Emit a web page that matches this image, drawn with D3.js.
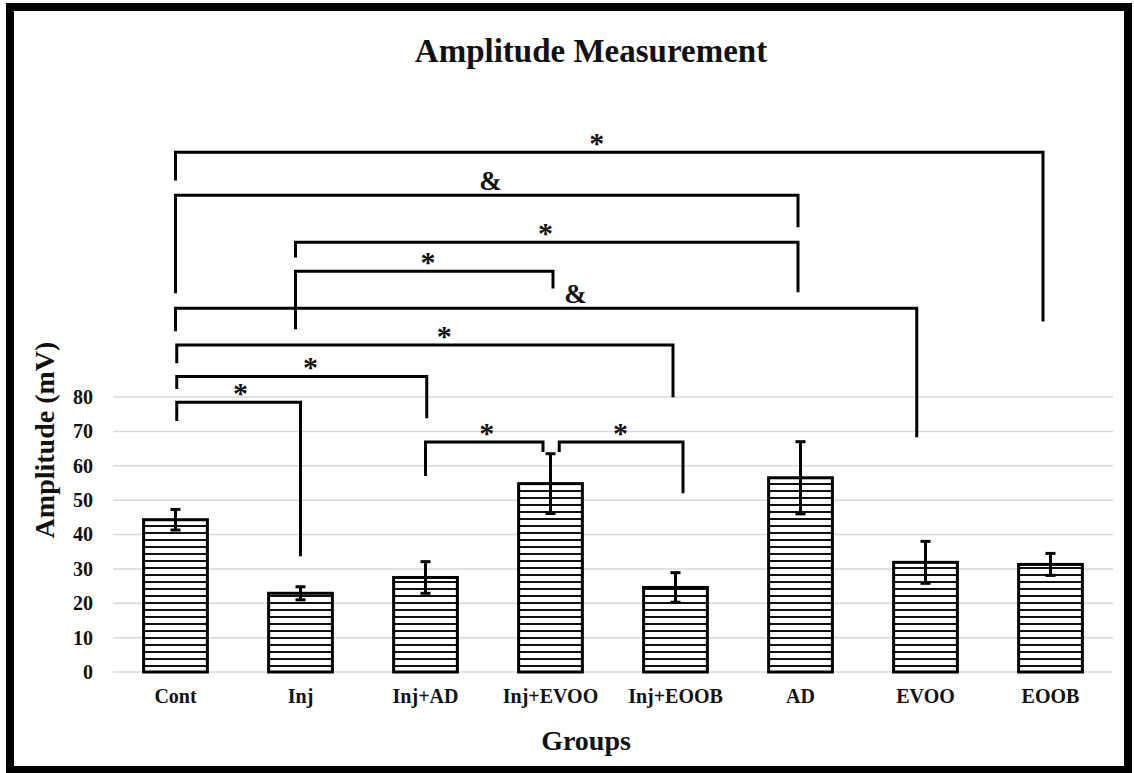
<!DOCTYPE html>
<html>
<head>
<meta charset="utf-8">
<script src="https://cdn.jsdelivr.net/npm/d3@7"></script>
<style>
  body { margin: 0; background: #fff; }
  text { font-family: "Liberation Serif", "Times New Roman", serif; font-weight: bold; }
</style>
</head>
<body>
<div id="chart"></div>
<script>
// groups and measured amplitude (mean, error)
var groups = ["Cont", "Inj", "Inj+AD", "Inj+EVOO", "Inj+EOOB", "AD", "EVOO", "EOOB"];
var means = [44.3, 22.9, 27.5, 54.8, 24.6, 56.5, 31.9, 31.3];
var errors = [3.0, 1.9, 4.6, 8.7, 4.3, 10.5, 6.1, 3.2];
var yTicks = [0, 10, 20, 30, 40, 50, 60, 70, 80];

// significance brackets: legs at (fractional) group index, heights in mV
var comparisons = [
  {from: 0,    to: 6.94, top: 151.2, fromEnd: 143,  toEnd: 102,  at: 3.37, mark: "*"},
  {from: 0,    to: 4.98, top: 138.7, fromEnd: 110.2, toEnd: 129.4, at: 2.52, mark: "&"},
  {from: 0.96, to: 4.98, top: 125,   fromEnd: 120.6, toEnd: 110.5, at: 2.96, mark: "*"},
  {from: 0.96, to: 3.02, top: 116.6, fromEnd: 99.7, toEnd: 111.6, at: 2.02, mark: "*"},
  {from: 0,    to: 5.93, top: 105.8, fromEnd: 99.1, toEnd: 68.3, at: 3.2,  mark: "&"},
  {from: 0.01, to: 3.98, top: 95.1,  fromEnd: 89.8, toEnd: 79.9, at: 2.15, mark: "*"},
  {from: 0.01, to: 2.01, top: 86,    fromEnd: 82.3, toEnd: 73.8, at: 1.08, mark: "*"},
  {from: 0.01, to: 1,    top: 78.5,  fromEnd: 73,   toEnd: 33.7, at: 0.52, mark: "*"},
  {from: 2,    to: 2.94, top: 66.9,  fromEnd: 57,   toEnd: 64,   at: 2.49, mark: "*"},
  {from: 3.07, to: 4.06, top: 66.9,  fromEnd: 64,   toEnd: 52,   at: 3.56, mark: "*"}
];

var W = 1134, H = 773;
var margin = {left: 113, right: 21, bottom: 101};
var y80 = 397;

var svg = d3.select('#chart')
  .append('svg')
  .attr('width', W)
  .attr('height', H);

// horizontal hatching for the bars
var pat = svg.append('defs').append('pattern')
  .attr('id', 'hatch')
  .attr('patternUnits', 'userSpaceOnUse')
  .attr('width', 8)
  .attr('height', 7)
  .attr('y', H - margin.bottom);
pat.append('rect').attr('width', 8).attr('height', 7).attr('fill', '#fff');
pat.append('rect').attr('y', 0).attr('width', 8).attr('height', 2).attr('fill', '#111');

var x = d3.scaleBand()
  .domain(groups)
  .range([margin.left, W - margin.right])
  .paddingInner(0.49)
  .paddingOuter(0.245);

var y = d3.scaleLinear()
  .domain([0, 80])
  .range([H - margin.bottom, y80]);

// fractional group index -> x of that group's centre
var xi = d3.scaleLinear()
  .domain([0, groups.length - 1])
  .range([x(groups[0]) + x.bandwidth() / 2, x(groups[groups.length - 1]) + x.bandwidth() / 2]);

// gridlines
svg.append('g')
  .selectAll('line')
  .data(yTicks)
  .enter().append('line')
  .attr('x1', margin.left)
  .attr('x2', W - margin.right)
  .attr('y1', function (d) { return y(d); })
  .attr('y2', function (d) { return y(d); })
  .style('stroke', '#d9d9d9')
  .style('stroke-width', '1.5px');

// y axis labels (no axis line)
var yAxis = svg.append('g')
  .attr('transform', 'translate(' + (margin.left - 20) + ',0)')
  .call(d3.axisLeft(y).tickValues(yTicks).tickSize(0).tickPadding(0));
yAxis.select('.domain').remove();
yAxis.selectAll('text')
  .style('font-size', '20px')
  .attr('fill', '#111');

// x axis labels
var xAxis = svg.append('g')
  .attr('transform', 'translate(0,' + (H - margin.bottom) + ')')
  .call(d3.axisBottom(x).tickSize(0).tickPadding(17));
xAxis.select('.domain').remove();
xAxis.selectAll('text')
  .style('font-size', '20px')
  .attr('fill', '#111');

// bars
svg.append('g')
  .selectAll('rect')
  .data(groups)
  .enter().append('rect')
  .attr('x', function (d) { return x(d); })
  .attr('y', function (d, i) { return y(means[i]); })
  .attr('width', x.bandwidth())
  .attr('height', function (d, i) { return y(0) - y(means[i]); })
  .attr('fill', 'url(#hatch)')
  .style('stroke', '#000')
  .style('stroke-width', '3px');

// error bars
var err = svg.append('g').selectAll('g')
  .data(groups)
  .enter().append('g')
  .style('stroke', '#000')
  .style('stroke-width', '3px');
err.append('line')
  .attr('x1', function (d) { return x(d) + x.bandwidth() / 2; })
  .attr('x2', function (d) { return x(d) + x.bandwidth() / 2; })
  .attr('y1', function (d, i) { return y(means[i] - errors[i]); })
  .attr('y2', function (d, i) { return y(means[i] + errors[i]); });
[-1, 1].forEach(function (s) {
  err.append('line')
    .attr('x1', function (d) { return x(d) + x.bandwidth() / 2 - 5; })
    .attr('x2', function (d) { return x(d) + x.bandwidth() / 2 + 5; })
    .attr('y1', function (d, i) { return y(means[i] + s * errors[i]); })
    .attr('y2', function (d, i) { return y(means[i] + s * errors[i]); });
});

// significance brackets
var br = svg.append('g').selectAll('g')
  .data(comparisons)
  .enter().append('g');
br.append('path')
  .attr('d', function (d) {
    return 'M' + xi(d.from) + ',' + y(d.fromEnd) +
      'V' + y(d.top) + 'H' + xi(d.to) + 'V' + y(d.toEnd);
  })
  .style('fill', 'none')
  .style('stroke', '#000')
  .style('stroke-width', '3px');
br.append('text')
  .attr('x', function (d) { return xi(d.at); })
  .attr('y', function (d) { return y(d.top) + (d.mark === '*' ? 1 : -5); })
  .attr('text-anchor', 'middle')
  .style('font-size', function (d) { return d.mark === '*' ? '30px' : '27px'; })
  .attr('fill', '#111')
  .text(function (d) { return d.mark; });

// titles
svg.append('text')
  .attr('x', 591)
  .attr('y', 62)
  .attr('text-anchor', 'middle')
  .style('font-size', '33px')
  .attr('fill', '#111')
  .text('Amplitude Measurement');

svg.append('text')
  .attr('transform', 'translate(54,' + 440 + ') rotate(-90)')
  .attr('text-anchor', 'middle')
  .style('font-size', '28px')
  .attr('fill', '#111')
  .text('Amplitude (mV)');

svg.append('text')
  .attr('x', 586)
  .attr('y', 750)
  .attr('text-anchor', 'middle')
  .style('font-size', '28px')
  .attr('fill', '#111')
  .text('Groups');

// outer frame
svg.append('rect')
  .attr('x', 10)
  .attr('y', 7)
  .attr('width', 1118)
  .attr('height', 763)
  .style('fill', 'none')
  .style('stroke', '#000')
  .style('stroke-width', '8px');
</script>
</body>
</html>
